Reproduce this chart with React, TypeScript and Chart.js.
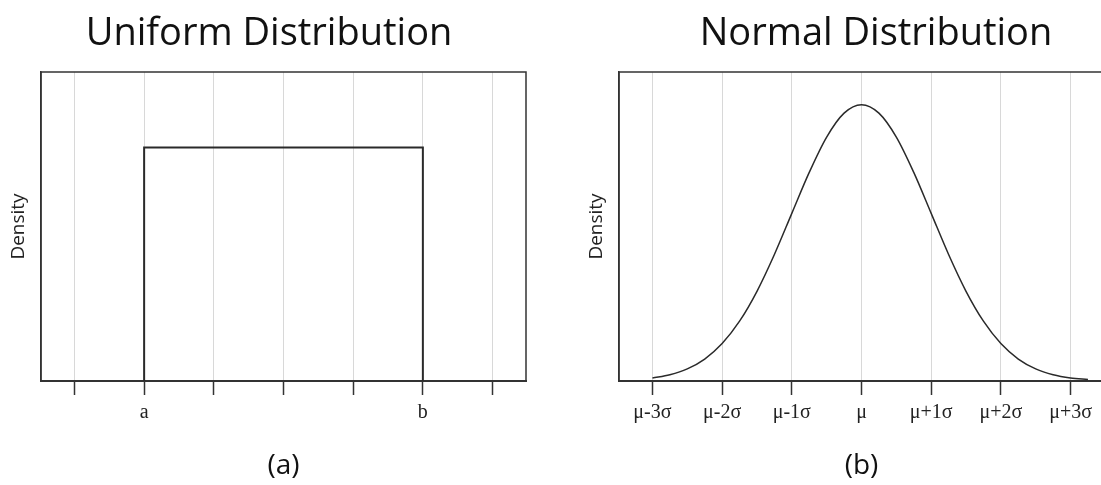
import React, { useEffect, useRef } from "react";
import { Chart, registerables } from "chart.js";

Chart.register(...registerables);

// ---------- data ----------
const uniformTickValues = [0, 1, 2, 3, 4, 5, 6];
const uniformTickLabels = ["", "a", "", "", "", "b", ""];
const uniformX = [1, 1, 5, 5];
const uniformY = [0, 0.756, 0.756, 0];

const normalTickValues = [-3, -2, -1, 0, 1, 2, 3];
const normalTickLabels = ["μ-3σ", "μ-2σ", "μ-1σ", "μ", "μ+1σ", "μ+2σ", "μ+3σ"];
const normalX = [-3, -2.75, -2.5, -2.25, -2, -1.75, -1.5, -1.25, -1, -0.75, -0.5, -0.25, 0, 0.25, 0.5, 0.75, 1, 1.25, 1.5, 1.75, 2, 2.25, 2.5, 2.75, 3, 3.25];
const normalY = [0.0044, 0.0091, 0.0175, 0.0317, 0.054, 0.0863, 0.1295, 0.1826, 0.242, 0.3011, 0.3521, 0.3867, 0.3989, 0.3867, 0.3521, 0.3011, 0.242, 0.1826, 0.1295, 0.0863, 0.054, 0.0317, 0.0175, 0.0091, 0.0044, 0.002];

const TITLE_FONT = "'Open Sans', 'Noto Sans', sans-serif";
const TICK_FONT = "'Liberation Serif', 'DejaVu Serif', serif";

const frameBox = {
  id: "frameBox",
  afterDatasetsDraw(chart: any) {
    const { ctx, chartArea } = chart;
    ctx.save();
    ctx.strokeStyle = "#333";
    ctx.lineWidth = 1.5;
    ctx.beginPath();
    ctx.moveTo(chartArea.left, chartArea.bottom);
    ctx.lineTo(chartArea.left, chartArea.top);
    ctx.lineTo(chartArea.right, chartArea.top);
    ctx.lineTo(chartArea.right, chartArea.bottom);
    ctx.stroke();
    ctx.restore();
  },
};

function makeConfig(opts: {
  title: string;
  sub: string;
  xs: number[];
  ys: number[];
  tickValues: number[];
  tickLabels: string[];
  xMin: number;
  xMax: number;
  yMax: number;
  yWidth: number;
  yTitlePad: number;
  rightGap: number;
  tension: number;
  lineWidth: number;
}) {
  return {
    type: "line" as const,
    data: {
      datasets: [
        {
          data: opts.xs.map((x, i) => ({ x, y: opts.ys[i] })),
          borderColor: "#2a2a2a",
          borderWidth: opts.lineWidth,
          pointRadius: 0,
          tension: opts.tension,
          cubicInterpolationMode: opts.tension > 0 ? "monotone" : "default",
          fill: false,
        },
      ],
    },
    options: {
      animation: false,
      responsive: false,
      events: [],
      layout: { padding: 0 },
      plugins: {
        legend: { display: false },
        tooltip: { enabled: false },
        title: {
          display: true,
          text: opts.title,
          color: "#111",
          font: { family: TITLE_FONT, size: 38, weight: "normal", lineHeight: 1.2 },
          padding: { top: 11, bottom: 15.4 },
        },
      },
      scales: {
        x: {
          type: "linear",
          min: opts.xMin,
          max: opts.xMax,
          afterBuildTicks: (s: any) => {
            s.ticks = opts.tickValues.map((v) => ({ value: v }));
          },
          afterFit: (s: any) => {
            s.height = 104;
          },
          grid: {
            color: "#d8d8d8",
            lineWidth: 1,
            tickColor: "#333",
            tickLength: 14,
            tickWidth: 1.5,
          },
          border: { display: true, color: "#333", width: 2 },
          ticks: {
            autoSkip: false,
            maxRotation: 0,
            padding: 6,
            color: "#222",
            font: { family: TICK_FONT, size: 20 },
            callback: (_v: any, i: number) => opts.tickLabels[i],
          },
          title: {
            display: true,
            text: opts.sub,
            color: "#111",
            font: { family: TITLE_FONT, size: 28, lineHeight: 1.2 },
            padding: { top: 0, bottom: 2 },
          },
        },
        y: {
          type: "linear",
          min: 0,
          max: opts.yMax,
          afterFit: (s: any) => {
            s.width = opts.yWidth;
          },
          grid: { display: false },
          border: { display: true, color: "#333", width: 1.5 },
          ticks: { display: false },
          title: {
            display: true,
            text: "Density",
            color: "#222",
            font: { family: TITLE_FONT, size: 19, lineHeight: 1.2 },
            padding: { top: opts.yTitlePad, bottom: 0 },
          },
        },
        gap: {
          type: "linear",
          position: "right",
          min: 0,
          max: 1,
          afterFit: (s: any) => {
            s.width = opts.rightGap;
          },
          grid: { display: false },
          border: { display: false },
          ticks: { display: false },
        },
      },
    },
    plugins: [frameBox],
  };
}

export default function App() {
  const leftRef = useRef<HTMLCanvasElement | null>(null);
  const rightRef = useRef<HTMLCanvasElement | null>(null);

  useEffect(() => {
    const c1 = new Chart(
      leftRef.current as HTMLCanvasElement,
      makeConfig({
        title: "Uniform Distribution",
        sub: "(a)",
        xs: uniformX,
        ys: uniformY,
        tickValues: uniformTickValues,
        tickLabels: uniformTickLabels,
        xMin: -0.48,
        xMax: 6.48,
        yMax: 1,
        yWidth: 41,
        yTitlePad: 7,
        rightGap: 12,
        tension: 0,
        lineWidth: 2,
      }) as any
    );
    const c2 = new Chart(
      rightRef.current as HTMLCanvasElement,
      makeConfig({
        title: "Normal Distribution",
        sub: "(b)",
        xs: normalX,
        ys: normalY,
        tickValues: normalTickValues,
        tickLabels: normalTickLabels,
        xMin: -3.48,
        xMax: 3.48,
        yMax: 0.446,
        yWidth: 69,
        yTitlePad: 35,
        rightGap: 98,
        tension: 0.4,
        lineWidth: 1.5,
      }) as any
    );
    return () => {
      c1.destroy();
      c2.destroy();
    };
  }, []);

  return (
    <div
      style={{
        position: "fixed",
        left: 0,
        top: 0,
        width: 1101,
        height: 485,
        overflow: "hidden",
        background: "#fff",
      }}
    >
      <canvas ref={leftRef} width={538} height={485} style={{ position: "absolute", left: 0, top: 0 }} />
      <canvas ref={rightRef} width={652} height={485} style={{ position: "absolute", left: 550, top: 0 }} />
    </div>
  );
}
